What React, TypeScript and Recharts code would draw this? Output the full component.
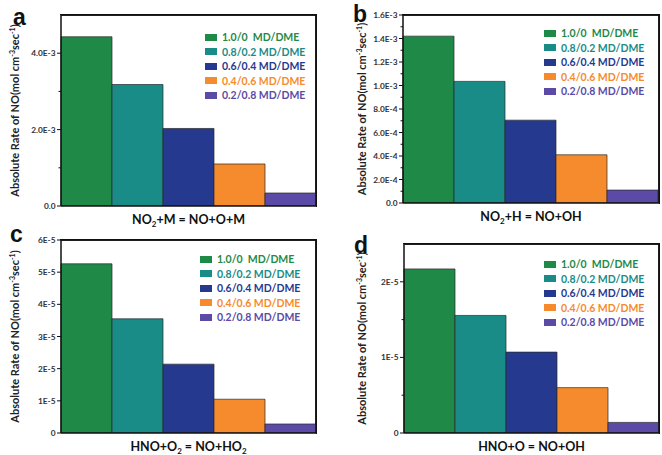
import React from 'react';
import { BarChart, Bar, XAxis, YAxis, Legend, CartesianGrid } from 'recharts';

// ---------- data ----------
const seriesNames = ['1.0/0  MD/DME', '0.8/0.2 MD/DME', '0.6/0.4 MD/DME', '0.4/0.6 MD/DME', '0.2/0.8 MD/DME'];
const seriesColors = ['#1f8a48', '#1a8c87', '#25398f', '#f68b2d', '#5b4ba6'];
const seriesKeys = ['s0', 's1', 's2', 's3', 's4'];

const valuesA = [4.43e-3, 3.18e-3, 2.03e-3, 1.1e-3, 0.34e-3];
const valuesB = [1.42e-3, 1.035e-3, 7.05e-4, 4.1e-4, 1.1e-4];
const valuesC = [5.26e-5, 3.55e-5, 2.14e-5, 1.05e-5, 0.28e-5];
const valuesD = [2.17e-5, 1.555e-5, 1.07e-5, 0.6e-5, 0.14e-5];

const ticksA = [0, 1e-3, 2e-3, 3e-3, 4e-3];
const tickLabelsA = ['0.0', '', '2.0E-3', '', '4.0E-3'];
const ticksB = [0, 1e-4, 2e-4, 3e-4, 4e-4, 5e-4, 6e-4, 7e-4, 8e-4, 9e-4, 1e-3, 1.1e-3, 1.2e-3, 1.3e-3, 1.4e-3, 1.5e-3, 1.6e-3];
const tickLabelsB = ['0.0', '', '2.0E-4', '', '4.0E-4', '', '6.0E-4', '', '8.0E-4', '', '1.0E-3', '', '1.2E-3', '', '1.4E-3', '', '1.6E-3'];
const ticksC = [0, 1e-5, 2e-5, 3e-5, 4e-5, 5e-5, 6e-5];
const tickLabelsC = ['0', '1E-5', '2E-5', '3E-5', '4E-5', '5E-5', '6E-5'];
const ticksD = [0, 0.5e-5, 1e-5, 1.5e-5, 2e-5];
const tickLabelsD = ['0', '', '1E-5', '', '2E-5'];

const FONT = 'Lato, "Liberation Sans", Arial, sans-serif';

function toRows(values: number[]) {
  const row: Record<string, any> = { name: 'r' };
  values.forEach((v, i) => {
    row[seriesKeys[i]] = v;
  });
  return [row];
}

type PanelProps = {
  values: number[];
  ticks: number[];
  tickLabels: string[];
  domain: [number, number];
  title: React.ReactNode;
  letter: string;
  left: number;
  top: number;
  width: number;
  height: number;
  margin: { top: number; right: number; bottom: number; left: number };
  yAxisWidth: number;
  xAxisHeight: number;
  letterPos: [number, number];
  yTitleX: number;
  legendPos: [number, number];
};

const FRAME_W = 1.5;
const axisStyle = { stroke: '#111', strokeWidth: FRAME_W };

function Panel(p: PanelProps) {
  // plot box derived from the panel layout (margins + axis sizes)
  const plotLeft = p.margin.left + p.yAxisWidth;
  const plotTop = p.margin.top;
  const plotRight = p.width - p.margin.right;
  const plotBottom = p.height - p.margin.bottom - p.xAxisHeight;

  const renderTick = (props: any) => {
    const { x, y, index } = props;
    const label = p.tickLabels[index] ?? '';
    const major = label !== '';
    return (
      <g>
        <line x1={x - (major ? 4 : 2.5)} x2={x} y1={y} y2={y} stroke="#111" strokeWidth={1} />
        {major && (
          <text x={x - 5.5} y={y} dy={3} textAnchor="end" fontSize={8.3} fontWeight="bold" fill="#333" fontFamily={FONT}>
            {label}
          </text>
        )}
      </g>
    );
  };

  const renderYTitle = (props: any) => {
    const vb = props.viewBox || { y: 0, height: 0 };
    const cy = vb.y + vb.height / 2;
    return (
      <g>
        <text x={p.letterPos[0]} y={p.letterPos[1]} fontSize={23} fontWeight="bold" fill="#111" fontFamily='"Liberation Sans", Arial, sans-serif'>
          {p.letter}
        </text>
        <text
          transform={`translate(${p.yTitleX},${cy}) rotate(-90)`}
          textAnchor="middle"
          fontSize={11}
          fontWeight="bold"
          fill="#222"
          fontFamily={FONT}
        >
          Absolute Rate of NO(mol cm
          <tspan dy={-4} fontSize={7}>-3</tspan>
          <tspan dy={4}>sec</tspan>
          <tspan dy={-4} fontSize={7}>-1</tspan>
          <tspan dy={4}>)</tspan>
        </text>
      </g>
    );
  };

  // x-axis title; also draws the top and right edges of the plot frame
  const renderXTitle = (props: any) => {
    const vb = props.viewBox || { x: 0, y: 0, width: 0 };
    return (
      <g>
        <path
          d={`M${plotLeft},${plotTop} L${plotRight},${plotTop} L${plotRight},${plotBottom}`}
          fill="none"
          stroke="#111"
          strokeWidth={FRAME_W}
        />
        <text x={vb.x + vb.width / 2} y={vb.y + 18} textAnchor="middle" fontSize={12.5} fontWeight="bold" fill="#111" fontFamily={FONT}>
          {p.title}
        </text>
      </g>
    );
  };

  const renderLegend = (props: any) => {
    const payload = [...(props.payload || [])].sort(
      (a: any, b: any) => seriesNames.indexOf(a.value) - seriesNames.indexOf(b.value)
    );
    return (
      <div style={{ fontFamily: FONT, fontWeight: 'bold', fontSize: 10.5 }}>
        {payload.map((e: any) => (
          <div key={e.value} style={{ display: 'flex', alignItems: 'center', height: 14.5 }}>
            <span style={{ display: 'inline-block', width: 12, height: 7, background: e.color, marginRight: 5 }} />
            <span style={{ color: e.color, whiteSpace: 'pre', lineHeight: '14px' }}>{e.value}</span>
          </div>
        ))}
      </div>
    );
  };

  return (
    <div style={{ position: 'absolute', left: p.left, top: p.top, width: p.width, height: p.height }}>
      <BarChart width={p.width} height={p.height} data={toRows(p.values)} margin={p.margin} barCategoryGap={0} barGap={0}>
        <CartesianGrid
          stroke="#111"
          strokeWidth={FRAME_W}
          horizontalPoints={[plotTop]}
          verticalPoints={[plotRight]}
        />
        <XAxis dataKey="name" tick={false} tickLine={false} axisLine={axisStyle} height={p.xAxisHeight} label={{ content: renderXTitle }} />
        <YAxis
          type="number"
          domain={p.domain}
          ticks={p.ticks}
          interval={0}
          tickSize={0}
          tickMargin={0}
          tickLine={false}
          tick={renderTick}
          width={p.yAxisWidth}
          axisLine={axisStyle}
          allowDataOverflow
          label={{ content: renderYTitle }}
        />
        {seriesKeys.map((k, i) => (
          <Bar key={k} dataKey={k} name={seriesNames[i]} fill={seriesColors[i]} stroke="#2a2a2a" strokeWidth={0.7} isAnimationActive={false} />
        ))}
        <Legend
          layout="vertical"
          align="center"
          verticalAlign="middle"
          content={renderLegend}
          wrapperStyle={{ left: p.legendPos[0], top: p.legendPos[1], width: 115, right: 'auto', bottom: 'auto' }}
        />
      </BarChart>
      <div
        style={{
          position: 'absolute',
          left: plotLeft - FRAME_W / 2,
          top: plotTop - FRAME_W / 2,
          width: plotRight - plotLeft + FRAME_W,
          height: plotBottom - plotTop + FRAME_W,
          borderTop: `${FRAME_W}px solid #111`,
          borderRight: `${FRAME_W}px solid #111`,
          boxSizing: 'border-box',
          pointerEvents: 'none',
          zIndex: 10,
        }}
      />
    </div>
  );
}

export default function App() {
  return (
    <div style={{ position: 'absolute', left: 0, top: 0, width: 662, height: 455, background: '#fff', overflow: 'hidden' }}>
      <Panel
        values={valuesA}
        ticks={ticksA}
        tickLabels={tickLabelsA}
        domain={[0, 5e-3]}
        title={<>NO<tspan dy={2.5} fontSize={8}>2</tspan><tspan dy={-2.5}>+M = NO+O+M</tspan></>}
        letter="a"
        left={0}
        top={0}
        width={331}
        height={227}
        margin={{ top: 15, right: 15, bottom: 0, left: 21 }}
        yAxisWidth={40}
        xAxisHeight={21}
        letterPos={[13, 25]}
        yTitleX={19}
        legendPos={[205, 30]}
      />
      <Panel
        values={valuesB}
        ticks={ticksB}
        tickLabels={tickLabelsB}
        domain={[0, 1.6e-3]}
        title={<>NO<tspan dy={2.5} fontSize={8}>2</tspan><tspan dy={-2.5}>+H = NO+OH</tspan></>}
        letter="b"
        left={331}
        top={0}
        width={331}
        height={227}
        margin={{ top: 15, right: 3, bottom: 0, left: 32 }}
        yAxisWidth={40}
        xAxisHeight={24}
        letterPos={[22, 22]}
        yTitleX={35}
        legendPos={[213, 26]}
      />
      <Panel
        values={valuesC}
        ticks={ticksC}
        tickLabels={tickLabelsC}
        domain={[0, 6e-5]}
        title={<>HNO+O<tspan dy={2.5} fontSize={8}>2</tspan><tspan dy={-2.5}> = NO+HO</tspan><tspan dy={2.5} fontSize={8}>2</tspan></>}
        letter="c"
        left={0}
        top={212}
        width={331}
        height={243}
        margin={{ top: 28, right: 15, bottom: 0, left: 21 }}
        yAxisWidth={40}
        xAxisHeight={22}
        letterPos={[10, 30]}
        yTitleX={19}
        legendPos={[200, 40]}
      />
      <Panel
        values={valuesD}
        ticks={ticksD}
        tickLabels={tickLabelsD}
        domain={[0, 2.5e-5]}
        title={<>HNO+O = NO+OH</>}
        letter="d"
        left={331}
        top={212}
        width={331}
        height={243}
        margin={{ top: 32, right: 3, bottom: 0, left: 33 }}
        yAxisWidth={40}
        xAxisHeight={22}
        letterPos={[23, 41]}
        yTitleX={35}
        legendPos={[213, 45]}
      />
    </div>
  );
}
